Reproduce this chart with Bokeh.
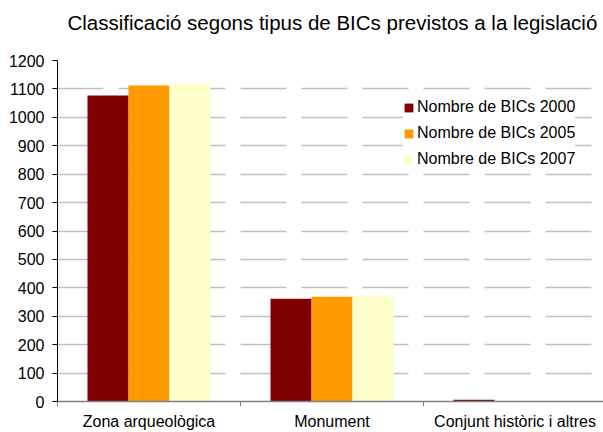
from bokeh.plotting import figure
from bokeh.models import ColumnDataSource, FixedTicker, Range1d, Title
from bokeh.transform import dodge
from bokeh.embed import file_html
from bokeh.resources import INLINE

categories = ["Zona arqueològica", "Monument", "Conjunt històric i altres"]
series_names = ["Nombre de BICs 2000", "Nombre de BICs 2005", "Nombre de BICs 2007"]
bics_2000 = [1077, 362, 6]
bics_2005 = [1112, 369, 0]
bics_2007 = [1119, 373, 0]
y_ticks = list(range(0, 1300, 100))
title_text = "Classificació segons tipus de BICs previstos a la legislació"

colors = ["#800000", "#FF9900", "#FFFFCC"]
FONT = "Liberation Sans"

pos = [i + 0.5 for i in range(len(categories))]
src = ColumnDataSource(dict(x=pos, s0=bics_2000, s1=bics_2005, s2=bics_2007))

p = figure(width=603, height=432, output_backend="svg", toolbar_location=None,
           x_range=Range1d(0, 546 / 183), y_range=Range1d(0, 1200),
           min_border_left=57, min_border_right=0, min_border_top=60,
           min_border_bottom=31)
p.outline_line_color = None
p.background_fill_color = "white"

bw = 0.224
for i, (col, name, c) in enumerate(zip(["s0", "s1", "s2"], series_names, colors)):
    p.vbar(x=dodge("x", (i - 1) * bw, range=p.x_range), top=col, width=bw, bottom=0,
           source=src, fill_color=c, line_color=None, legend_label=name)

# spacer between title and plot frame
p.add_layout(Title(text=" ", text_font_size="10px", standoff=14), "above")

p.title.text = title_text
p.title.text_font = FONT
p.title.text_font_size = "20.5px"
p.title.text_font_style = "normal"
p.title.text_color = "black"
p.title.align = "left"
p.title.offset = 10
p.title.standoff = 0

# x axis
p.xaxis.ticker = FixedTicker(ticks=pos, minor_ticks=[0, 1, 2, 3])
p.xaxis.major_label_overrides = {x: c for x, c in zip(pos, categories)}
p.xaxis.major_tick_line_color = None
p.xaxis.major_tick_out = 5
p.xaxis.major_tick_in = 0
p.xaxis.minor_tick_line_color = "#808080"
p.xaxis.minor_tick_out = 5
p.xaxis.minor_tick_in = 0
p.xaxis.axis_line_color = "#808080"
p.xaxis.axis_line_width = 1.5
p.xaxis.major_label_text_font = FONT
p.xaxis.major_label_text_font_size = "16px"
p.xaxis.major_label_text_color = "black"
p.xaxis.major_label_standoff = 6
p.xgrid.grid_line_color = None

# y axis
p.yaxis.ticker = FixedTicker(ticks=y_ticks)
p.yaxis.minor_tick_line_color = None
p.yaxis.major_tick_out = 5
p.yaxis.major_tick_in = 0
p.yaxis.major_tick_line_color = "black"
p.yaxis.axis_line_color = "black"
p.yaxis.major_label_text_font = FONT
p.yaxis.major_label_text_font_size = "16px"
p.yaxis.major_label_text_color = "black"
p.yaxis.major_label_standoff = 8
p.ygrid.ticker = FixedTicker(ticks=y_ticks)
p.ygrid.grid_line_color = "#c0c0c0"
p.ygrid.grid_line_width = 1.5
p.ygrid.grid_line_dash = "46 15"

# legend
lg = p.legend[0]
lg.location = (346, 232)
lg.border_line_color = None
lg.background_fill_color = "white"
lg.background_fill_alpha = 1
lg.padding = 5
lg.margin = 0
lg.spacing = 6
lg.glyph_width = 11
lg.glyph_height = 11
lg.label_height = 20
lg.label_standoff = 3
lg.label_text_font = FONT
lg.label_text_font_size = "16px"
lg.label_text_color = "black"

open("out.html", "w").write(file_html(p, INLINE))
